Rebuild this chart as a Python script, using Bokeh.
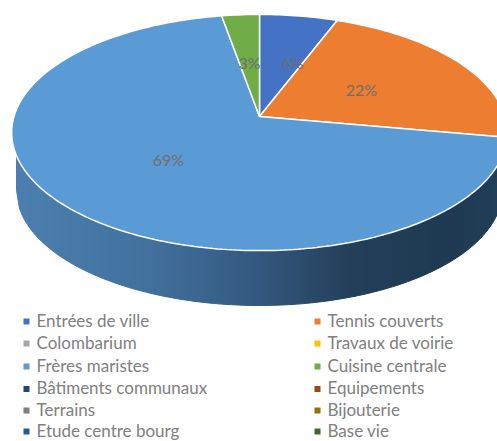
import numpy as np
from bokeh.plotting import figure
from bokeh.models import Range1d
from bokeh.core.properties import value
from bokeh.embed import file_html
from bokeh.resources import INLINE

categories = ["Entrées de ville", "Tennis couverts", "Colombarium", "Travaux de voirie",
              "Frères maristes", "Cuisine centrale", "Bâtiments communaux", "Equipements",
              "Terrains", "Bijouterie", "Etude centre bourg", "Base vie"]
shares = [5.8, 22.0, 0, 0, 69.4, 2.8, 0, 0, 0, 0, 0, 0]
colors = ["#4472C4", "#ED7D31", "#A5A5A5", "#FFC000", "#5B9BD5", "#70AD47",
          "#264478", "#9E480E", "#7F7F7F", "#997300", "#255E91", "#43682B"]
side_stops = [16, 150, 259, 350, 450, 505]
side_cols = [(76, 127, 176), (66, 113, 157), (52, 88, 127), (36, 64, 90), (31, 58, 82), (35, 62, 88)]
label_at = [(292, 62), (361, 89), (168, 159), (249, 62)]

W, H = 497, 441
p = figure(width=W, height=H, output_backend="svg", toolbar_location=None,
           x_range=Range1d(0, W), y_range=Range1d(H, 0), min_border=0,
           outline_line_color=None, background_fill_color="white", border_fill_color="white")
p.axis.visible = False
p.grid.visible = False

# perspective projection of the pie's disc
AX, AY, RX, KY, PERSP = 259.0, 116.0, 245.5, 115.9, 0.1358
def project(theta):
    w = 1 + PERSP * np.cos(theta)
    return AX + RX * np.sin(theta) / w, AY - KY * np.cos(theta) / w

CY, RY, ERX = 132.0, 118.0, 247.5
LOW_CY, LOW_RY, LOW_RX = 190.0, 115.0, 243.0

# side wall, in thin vertical strips
xs = np.arange(16, 503, 3.0)
sx, sy, sc = [], [], []
for x0 in xs:
    x1 = x0 + 3
    def top(x):
        return CY + RY * np.sqrt(max(0, 1 - ((x - AX) / ERX) ** 2))
    def low(x):
        return LOW_CY + LOW_RY * np.sqrt(max(0, 1 - ((x - AX) / LOW_RX) ** 2))
    sx.append([x0, x1, x1, x0])
    sy.append([top(x0), top(x1), low(x1), low(x0)])
    mid = x0 + 1.5
    rgb = [int(np.interp(mid, side_stops, [c[i] for c in side_cols])) for i in range(3)]
    sc.append("#%02x%02x%02x" % tuple(rgb))
p.patches(sx, sy, fill_color=sc, line_color=sc, line_width=1)

# top slices
total = sum(shares)
order = [i for i, s in enumerate(shares) if s > 0]
start = 0.0
for i in order:
    end = start + shares[i] / total * 2 * np.pi
    t = np.linspace(start, end, max(4, int((end - start) * 60)))
    ex, ey = project(t)
    p.patch(np.r_[AX, ex], np.r_[AY, ey], fill_color=colors[i], line_color="white", line_width=1.5)
    start = end

# data labels
for i, (lx, ly) in zip(order, label_at):
    p.text([lx], [ly], text=["%d%%" % round(shares[i])], text_color="#6E6E6E",
           text_font=value("Lato"), text_font_size="16px", text_align="center", text_baseline="middle")

# legend
row_y = [321, 343, 366, 388.5, 410, 431]
col_x = [26, 317]
for k, name in enumerate(categories):
    y, x = row_y[k // 2], col_x[k % 2]
    p.scatter([x], [y], marker="square", size=6, fill_color=colors[k], line_color=None)
    p.text([x + 10], [y - 1.5], text=[name], text_color="#808080", text_font=value("Lato"),
           text_font_size="17px", text_align="left", text_baseline="middle")

open("out.html", "w").write(file_html(p, INLINE))
